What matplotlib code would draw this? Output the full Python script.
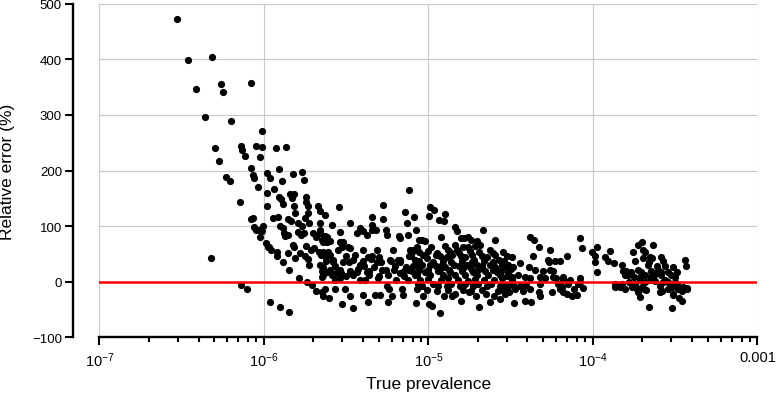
import numpy as np
import matplotlib
matplotlib.use("Agg")
import matplotlib.pyplot as plt
from matplotlib.ticker import FixedLocator, FixedFormatter, NullFormatter

# ---------------- data (log10 of true prevalence, relative error in %) ----------------
logp_low = [
    -6.527, -6.460, -6.314, -6.413, -6.263, -6.249, -6.081, -6.360, -6.199, -6.010,
    -6.296, -6.142, -6.134, -6.114, -6.047, -6.010, -6.024, -6.272, -6.081, -6.229,
    -6.205, -6.064, -6.058, -5.979, -6.034, -5.981, -6.148, -5.979, -6.079, -6.069,
    -6.061, -6.050, -6.011, -6.022, -5.987, -5.974, -6.322, -6.142, -6.103, -5.963,
    -5.926, -5.865, -5.908, -5.770, -5.962, -5.888, -5.825, -5.758, -5.938, -5.910,
    -5.895, -5.843, -5.829, -5.816, -5.742, -5.742, -5.734, -5.886, -5.819, -5.671,
    -5.662, -5.630, -5.810, -5.731, -5.914, -5.944, -5.855, -5.748, -6.005, -5.834,
    -5.795, -5.769, -5.725, -5.660, -5.902, -5.886, -6.028, -5.878, -5.870, -5.852,
    -5.791, -5.775, -5.756, -5.703, -5.683, -5.660, -5.646, -5.629, -5.619, -5.971,
    -5.957, -5.923, -5.919, -5.825, -5.819, -5.782, -5.742, -5.717, -5.697, -5.748,
    -5.734, -5.852, -5.810, -5.667, -5.653, -5.627, -5.613, -5.886, -5.725, -5.649,
    -5.639, -5.850, -5.785, -5.739, -5.710, -5.684, -5.649, -5.629,
    -5.901, -5.846, -5.607,
]
err_low = [
    472, 398, 405, 347, 355, 341, 358, 297, 289, 272,
    241, 244, 237, 226, 244, 242, 224, 218, 205, 188,
    181, 192, 186, 195, 171, 160, 144, 136, 112, 115,
    99, 93, 91, 81, 69, 62, 43, -6, -13, -37,
    241, 243, 202, 197, 187, 181, 193, 183, 167, 153,
    148, 158, 151, 157, 153, 144, 136, 139, 136, 136,
    127, 120, 123, 123, 117, 114, 112, 114, 100, 109,
    106, 101, 105, 105, 101, 97, 93, 88, 82, 85,
    90, 84, 88, 87, 80, 87, 76, 82, 71, 63,
    58, 54, 46, 67, 63, 51, 64, 58, 60, 46,
    41, 51, 42, 53, 48, 46, 53, 35, 31, 19,
    13, 22, 6, 0, -6, -17, -19, -13,
    -46, -54, -30,
]

logp_mid = [
    -5.545, -5.278, -5.341, -5.276, -5.477, -5.416, -5.436, -5.396, -5.376, -5.341,
    -5.258, -5.254, -5.588, -5.538, -5.518, -5.487, -5.181, -5.119, -5.144, -5.086,
    -5.133, -5.660, -5.343, -5.318, -5.173, -5.123, -5.078, -5.058, -5.633, -5.615,
    -5.599, -5.643, -5.538, -5.526, -5.548, -5.477, -5.400, -5.315, -5.218, -5.184,
    -5.173, -5.113, -5.102, -5.117, -5.643, -5.619, -5.599, -5.502, -5.447, -5.366,
    -5.345, -5.299, -5.234, -5.582, -5.568, -5.660, -5.643, -5.481, -5.416, -5.392,
    -5.315, -5.331, -5.258, -5.204, -5.137, -5.117, -5.092, -5.619, -5.588, -5.562,
    -5.532, -5.502, -5.457, -5.436, -5.376, -5.360, -5.299, -5.244, -5.173, -5.149,
    -5.072, -5.649, -5.568, -5.538, -5.416, -5.386, -5.305, -5.198, -5.123, -5.643,
    -5.568, -5.508, -5.477, -5.400, -5.325, -5.295, -5.254, -5.238, -5.224, -5.163,
    -5.153, -5.072, -5.528, -5.457, -5.366, -5.244, -5.076,
]
err_mid = [
    135, 138, 117, 112, 105, 96, 87, 91, 84, 103,
    93, 85, 102, 90, 71, 63, 82, 165, 126, 117,
    106, 94, 93, 93, 78, 85, 93, 75, 80, 80,
    73, 71, 71, 63, 58, 60, 58, 58, 57, 40,
    35, 58, 53, 46, 53, 46, 49, 46, 49, 45,
    46, 44, 40, 35, 28, 31, 26, 35, 31, 28,
    35, 26, 22, 28, 26, 21, 28, 17, 13, 15,
    15, 10, 13, 17, 17, 12, 10, 13, 15, 10,
    13, 8, 4, 6, 3, 3, 6, 3, 4, -26,
    -13, -13, -26, -24, -24, -24, -8, -13, -26, -13,
    -24, -13, -40, -48, -37, -36, -39,
]

logp_high = [
    -4.988, -4.968, -4.994, -4.901, -4.935, -4.904, -4.839, -4.827, -4.667, -5.038,
    -5.022, -4.921, -4.805, -4.785, -4.761, -4.704, -4.597, -4.383, -4.359, -4.329,
    -4.264, -4.156, -4.079, -4.744, -5.096, -5.072, -4.986, -4.899, -4.879, -4.839,
    -4.828, -4.788, -4.757, -4.717, -4.687, -4.626, -5.109, -5.083, -5.036, -5.009,
    -4.957, -4.927, -4.886, -4.856, -4.805, -4.775, -4.734, -4.724, -4.673, -4.643,
    -4.593, -4.573, -4.522, -5.072, -5.041, -4.991, -4.957, -4.916, -4.897, -4.846,
    -4.816, -4.765, -4.745, -4.704, -4.674, -4.623, -4.593, -4.552, -4.522, -5.102,
    -5.082, -5.021, -4.991, -4.941, -4.910, -4.869, -4.839, -4.798, -4.778, -4.728,
    -4.707, -4.657, -4.637, -4.586, -4.565, -4.515, -5.062, -5.041, -4.971, -4.941,
    -4.890, -4.860, -4.809, -4.778, -4.728, -4.698, -4.647, -4.617, -4.565, -4.535,
    -5.031, -4.998, -4.977, -4.907, -4.856, -4.836, -4.755, -4.714, -4.694, -4.653,
    -4.603, -4.532, -4.927, -4.805, -4.623, -4.566,
]
err_high = [
    135, 129, 118, 121, 111, 109, 99, 91, 94, 76,
    74, 80, 78, 78, 80, 73, 76, 81, 76, 62,
    57, 46, 78, 76, 58, 62, 62, 64, 58, 67,
    58, 62, 63, 64, 67, 58, 46, 40, 49, 42,
    49, 46, 44, 49, 46, 44, 49, 40, 46, 44,
    49, 40, 46, 31, 31, 31, 28, 31, 26, 31,
    28, 31, 26, 31, 28, 31, 26, 31, 27, 19,
    13, 17, 12, 19, 13, 18, 12, 19, 12, 18,
    12, 19, 13, 18, 12, 17, -4, -8, -4, -8,
    -8, -4, -8, -4, -8, -4, -8, -4, -8, -6,
    -26, -40, -44, -26, -26, -22, -19, -26, -46, -22,
    -26, -22, -57, -35, -36, -31,
]

# saturated core of the cloud (1e-5 .. 3e-5)
logp_core = [
    -5.055, -5.000, -4.950, -4.870, -4.815, -4.750, -4.690, -4.610, -4.545,
    -5.060, -4.975, -4.910, -4.860, -4.795, -4.735, -4.660, -4.605, -4.540,
    -5.055, -5.005, -4.930, -4.875, -4.790, -4.735, -4.690, -4.610, -4.560, -4.500,
    -5.050, -5.000, -4.925, -4.880, -4.820, -4.760, -4.715, -4.660, -4.600, -4.550, -4.490,
    -5.010, -4.950, -4.880, -4.790, -4.740, -4.675, -4.580,
    -5.620, -5.580, -5.520, -5.460, -5.400, -5.350, -5.290, -5.230, -5.170,
    -5.600, -5.540, -5.480, -5.430, -5.360, -5.280, -5.210, -5.150,
]
err_core = [
    53, 55, 51, 54, 52, 55, 53, 51, 54,
    37, 36, 38, 35, 37, 36, 38, 35, 37,
    22, 21, 23, 22, 24, 21, 23, 22, 21, 23,
    4, 5, 3, 6, 4, 2, 5, 3, 4, 6, 3,
    -15, -16, -14, -15, -17, -14, -16,
    38, 40, 36, 39, 37, 41, 36, 38, 39,
    21, 22, 20, 23, 19, 21, 22, 20,
]

logp_top = [
    -4.066, -4.363, -4.494, -4.555, -4.515, -4.444, -4.484, -4.387, -4.353, -4.272,
    -4.265, -4.231, -4.201, -4.261, -4.241, -4.302, -4.559, -4.525, -4.494, -4.454,
    -4.413, -4.383, -4.322, -4.292, -4.245, -4.225, -4.185, -4.140, -4.079, -4.515,
    -4.485, -4.444, -4.407, -4.322, -4.211, -4.191, -4.150, -4.089, -4.541, -4.509,
    -4.474, -4.424, -4.383, -4.326, -4.322, -4.251, -4.201, -4.181, -4.160, -4.130,
    -4.095, -4.063, -4.480, -4.413, -4.379, -4.005, -3.985, -3.975, -3.975, -4.180,
    -4.150, -4.117, -4.079, -3.988, -3.927, -3.897, -3.907, -3.872, -3.824, -3.818,
    -3.757, -3.747, -3.727, -3.703, -3.634, -3.694, -3.684, -3.694, -3.643, -3.663,
    -3.589, -3.573, -3.562, -3.512, -3.441, -3.435, -3.488, -3.798, -3.787, -3.767,
    -3.727, -3.706, -3.686, -3.646, -3.626, -3.605, -3.585, -3.544, -3.524, -3.864,
    -3.834, -3.824, -3.804, -3.783, -3.753, -3.733, -3.713, -3.682, -3.702, -3.692,
    -3.652, -3.622, -3.592, -3.582, -3.562, -3.542, -3.521, -3.491, -3.481, -3.461,
    -3.431, -3.541, -3.717, -3.512, -3.476, -3.461, -3.662, -3.520, -3.608, -3.743,
    -3.573, -3.501, -3.864, -3.762, -3.675, -3.592, -3.451, -3.427, -3.516, -3.727,
    -3.807, -3.750, -3.716, -3.646, -3.585, -3.504, -3.662, -3.652,
]
err_top = [
    60, 46, 44, 35, 31, 33, 26, 26, 22, 40,
    35, 37, 37, 22, 19, 19, 19, 10, 9, 12,
    9, 6, 8, 6, 9, 6, 9, 4, 6, -8,
    -6, -8, -6, -4, -4, -9, -4, -4, -17, -19,
    -13, -17, -13, -19, -26, -19, -13, -19, -22, -26,
    -24, -12, -39, -35, -36, 53, 46, 62, 18, 4,
    -1, -13, -1, 35, 44, 55, 37, 33, 30, 19,
    53, 37, 67, 72, 67, 57, 53, 42, 42, 31,
    45, 37, 28, 26, 39, 28, 17, 19, 12, 17,
    22, 18, 13, 19, 13, 22, 17, 17, 12, -4,
    -10, -4, -13, -1, -8, -13, 4, 0, -10, -13,
    4, 1, -8, -17, 4, -1, -10, -4, -13, -17,
    -13, -13, -28, -24, -30, -35, -46, -48, 28, -4,
    0, 0, -10, -10, -15, -18, -10, -12, -22, -19,
    13, 9, 8, 9, 13, 8, 35, 44,
]

x_tick_values = [1e-7, 1e-6, 1e-5, 1e-4, 1e-3]
x_tick_labels = ['$10^{-7}$', '$10^{-6}$', '$10^{-5}$', '$10^{-4}$', '0.001']
y_tick_values = [-100, 0, 100, 200, 300, 400, 500]
x_label = 'True prevalence'
y_label = 'Relative error (%)'
reference_level = 0

# ---------------- figure ----------------
plt.rcParams['font.family'] = ['Liberation Sans', 'DejaVu Sans']
plt.rcParams['mathtext.fontset'] = 'custom'
plt.rcParams['mathtext.rm'] = 'Liberation Sans'
plt.rcParams['mathtext.it'] = 'Liberation Sans:italic'
plt.rcParams['mathtext.bf'] = 'Liberation Sans:bold'
plt.rcParams['mathtext.default'] = 'regular'

logp = np.concatenate([logp_low, logp_mid, logp_high, logp_core, logp_top])
err = np.concatenate([err_low, err_mid, err_high, err_core, err_top])
prevalence = 10.0 ** logp

fig = plt.figure(figsize=(7.82, 4.02), dpi=100)
ax = fig.add_axes([0.1272, 0.1582, 0.8414, 0.8301])

ax.set_xscale('log')
ax.set_xlim(1e-7, 1e-3)
ax.set_ylim(-100, 500)

ax.scatter(prevalence, err, s=27, c='black', linewidths=0, zorder=3, clip_on=False)
ax.axhline(reference_level, color='#ff0000', lw=1.8, zorder=4)

ax.grid(True, which='major', color='#c8c8c8', lw=0.8)
ax.set_axisbelow(True)

for side in ('top', 'right'):
    ax.spines[side].set_visible(False)
ax.spines['left'].set_position(('outward', 19))
ax.spines['left'].set_linewidth(1.7)
ax.spines['bottom'].set_linewidth(1.7)

ax.xaxis.set_major_locator(FixedLocator(x_tick_values))
ax.xaxis.set_major_formatter(FixedFormatter(x_tick_labels))
minor = [m * 10.0 ** e for e in range(-7, -3) for m in range(2, 10)]
ax.xaxis.set_minor_locator(FixedLocator(minor))
ax.xaxis.set_minor_formatter(NullFormatter())
ax.yaxis.set_major_locator(FixedLocator(y_tick_values))
ax.yaxis.set_minor_locator(FixedLocator([]))

ax.tick_params(axis='both', which='major', direction='out', length=6, width=1.5,
               labelsize=9.5, colors='black')
ax.tick_params(axis='y', which='major', pad=2)
ax.tick_params(axis='x', which='major', pad=3, labelsize=10.5)
ax.tick_params(axis='x', which='minor', direction='out', length=3.5, width=1.5)

ax.set_xlabel(x_label, fontsize=12.5)
ax.set_ylabel(y_label, fontsize=12.5)
ax.xaxis.set_label_coords(0.5, -0.115)
ax.yaxis.set_label_coords(-0.1284, 0.5)

fig.savefig('out.png', dpi=100)
